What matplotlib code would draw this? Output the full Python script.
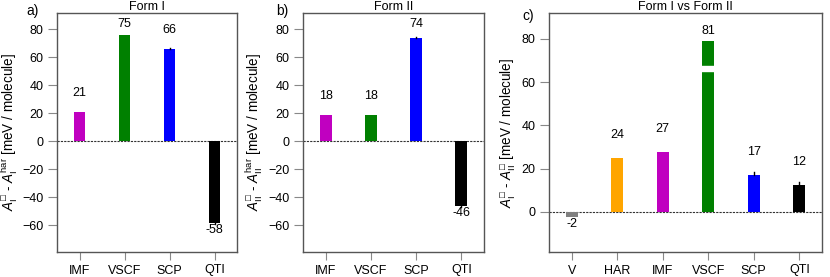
import matplotlib
matplotlib.use('Agg')
import matplotlib.pyplot as plt
import numpy as np

plt.rcParams['font.family'] = ['Liberation Sans', 'DejaVu Sans']
plt.rcParams['font.size'] = 9
plt.rcParams['mathtext.fontset'] = 'custom'
plt.rcParams['mathtext.rm'] = 'Liberation Sans'
plt.rcParams['mathtext.it'] = 'Liberation Sans:italic'
plt.rcParams['mathtext.fallback'] = 'stixsans'

# data
cats_ab = ['IMF', 'VSCF', 'SCP', 'QTI']
colors_ab = ['#c000c0', '#008000', '#0000ff', '#000000']
form1_vals = [21.0, 75.5, 66.0, -58.5]
form1_err = [0.0, 0.0, 0.5, 0.5]
form1_text = ['21', '75', '66', '-58']
form2_vals = [18.5, 18.8, 74.0, -46.3]
form2_err = [0.0, 0.0, 0.6, 0.6]
form2_text = ['18', '18', '74', '-46']

cats_c = ['V', 'HAR', 'IMF', 'VSCF', 'SCP', 'QTI']
colors_c = ['#808080', '#ffa500', '#c000c0', '#008000', '#0000ff', '#000000']
diff_vals = [-2.6, 25.0, 27.8, 79.2, 17.2, 12.6]
diff_err = [0.0, 0.0, 0.0, 0.0, 1.0, 1.2]
diff_text = ['-2', '24', '27', '81', '17', '12']

spine_col = '#555555'
tick_col = '#888888'
BOX = '\u25a1'


def panel(ax, cats, vals, errs, texts, cols, ylim, yticks, off_up, title, ylabel, lab_x):
    x = np.arange(len(cats))
    ax.bar(x, vals, width=0.26, color=cols, zorder=2)
    for xi, v, e in zip(x, vals, errs):
        if e > 0:
            if v >= 0:
                ax.plot([xi, xi], [v, v + e], color='k', lw=1, zorder=3)
            else:
                ax.plot([xi, xi], [v, v - e], color='k', lw=1, zorder=3)
    ax.axhline(0, color='#333333', lw=0.8, ls=(0, (2, 1)), zorder=1)
    for xi, v, t in zip(x, vals, texts):
        if v >= 0:
            ax.text(xi, min(v + off_up, 83.5), t, ha='center', va='center', fontsize=9)
        else:
            ax.annotate(t, (xi, v), xytext=(0, -5), textcoords='offset points',
                        ha='center', va='center', fontsize=9)
    ax.set_xlim(-0.5, len(cats) - 0.5)
    ax.set_ylim(*ylim)
    ax.set_yticks(yticks)
    ax.set_xticks(x)
    ax.set_xticklabels(cats)
    for s in ax.spines.values():
        s.set_color(spine_col)
        s.set_linewidth(1.0)
    ax.tick_params(axis='y', length=6.5, width=0.8, color=tick_col, pad=3, labelsize=9)
    ax.tick_params(axis='x', length=6, width=0.8, color=tick_col, pad=3, labelsize=9)
    ax.set_title(title, fontsize=9, pad=2)
    ax.set_ylabel(ylabel, fontsize=9.75)
    ax.yaxis.set_label_coords(lab_x, 0.5)
    return x


fig = plt.figure(figsize=(8.3, 2.77), dpi=100)
H = 277.0
W = 830.0
bot = 1 - 252 / H
hgt = (252 - 13) / H
ax1 = fig.add_axes([57 / W, bot, 180 / W, hgt])
ax2 = fig.add_axes([303 / W, bot, 181 / W, hgt])
ax3 = fig.add_axes([549 / W, bot, 273 / W, hgt])

panel(ax1, cats_ab, form1_vals, form1_err, form1_text, colors_ab, (-79, 91.5),
      [-60, -40, -20, 0, 20, 40, 60, 80], 13.5, 'Form I',
      r'$A_{\mathrm{I}}^{%s}$ - $A_{\mathrm{I}}^{\mathrm{har}}$ [meV / molecule]' % BOX, -0.205)
panel(ax2, cats_ab, form2_vals, form2_err, form2_text, colors_ab, (-79, 91.5),
      [-60, -40, -20, 0, 20, 40, 60, 80], 13.5, 'Form II',
      r'$A_{\mathrm{II}}^{%s}$ - $A_{\mathrm{II}}^{\mathrm{har}}$ [meV / molecule]' % BOX, -0.21)
xc = panel(ax3, cats_c, diff_vals, diff_err, diff_text, colors_c, (-18.6, 92),
           [0, 20, 40, 60, 80], 10.5, 'Form I vs Form II',
           r'$A_{\mathrm{I}}^{%s}$ - $A_{\mathrm{II}}^{%s}$ [meV / molecule]' % (BOX, BOX), -0.115)

# axis break on the VSCF bar
ax3.fill_between([xc[3] - 0.2, xc[3] + 0.2], 65.2, 67.5, color='white', zorder=2.5)

fig.text(33 / W, 1 - 11 / H, 'a)', fontsize=10, ha='center', va='center')
fig.text(282 / W, 1 - 11 / H, 'b)', fontsize=10, ha='center', va='center')
fig.text(528 / W, 1 - 16 / H, 'c)', fontsize=10, ha='center', va='center')

fig.savefig('out.png', dpi=100)
